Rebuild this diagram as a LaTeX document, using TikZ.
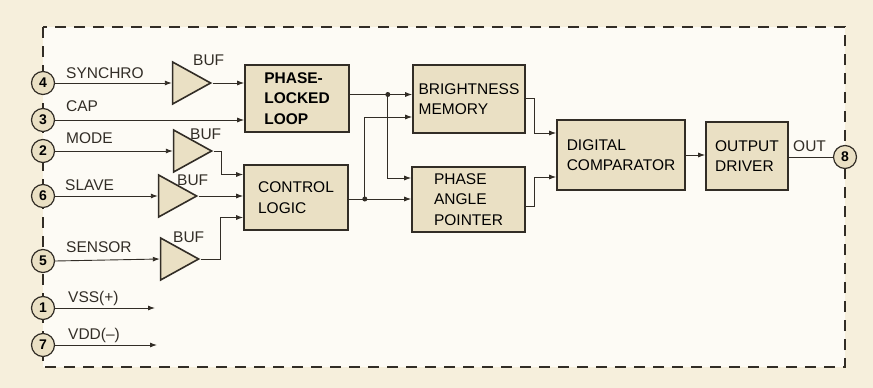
\documentclass[tikz,border=0pt]{standalone}
\usepackage{fontspec}
\setmainfont{Liberation Sans}
\usetikzlibrary{arrows.meta,positioning,shapes.geometric,calc}
\definecolor{paper}{RGB}{246,239,220}
\definecolor{chipbg}{RGB}{253,251,245}
\definecolor{blockfill}{RGB}{234,224,196}
\definecolor{ink}{RGB}{50,45,38}

\begin{document}
\begin{tikzpicture}[x=1pt, y=-1pt, font=\fontsize{15.5}{20.5}\selectfont,
  block/.style={draw=ink, line width=1.6pt, fill=blockfill, align=left, inner sep=0pt},
  pin/.style={circle, draw=ink, line width=1.2pt, fill=blockfill, minimum size=23pt, inner sep=0pt, font=\bfseries\fontsize{14}{14}\selectfont},
  buf/.style={isosceles triangle, isosceles triangle stretches, draw=ink, line width=1.6pt, fill=blockfill, minimum width=42pt, minimum height=38pt, inner sep=0pt},
  sig/.style={ink, line width=0.9pt, -{Latex[length=7pt,width=5pt]}},
  lbl/.style={anchor=west, inner sep=0pt, text=ink},
  jdot/.style={circle, fill=ink, inner sep=0pt, minimum size=5pt}]

% paper and chip outline
\fill[paper] (0,0) rectangle (873,388);
\useasboundingbox (0,0) rectangle (873,388);
\fill[chipbg] (43,27) rectangle (845,367);
\draw[ink, line width=1.6pt, dash pattern=on 11pt off 8pt] (43,27) rectangle (845,367);

% blocks
\node[block, minimum width=104pt, minimum height=67pt, font=\bfseries\fontsize{15.5}{20.5}\selectfont] (pll) at (297,98.5) {PHASE-\\LOCKED\\LOOP};
\node[block, minimum width=112pt, minimum height=68pt] (bm) at (469,99) {BRIGHTNESS\\MEMORY};
\node[block, minimum width=104pt, minimum height=65pt] (cl) at (296,197.5) {CONTROL\\LOGIC};
\node[block, minimum width=113pt, minimum height=65pt] (pap) at (468.5,199.5) {PHASE\\ANGLE\\POINTER};
\node[block, minimum width=128pt, minimum height=70pt] (dc) at (621,155) {DIGITAL\\COMPARATOR};
\node[block, minimum width=82pt, minimum height=68pt] (od) at (747,156) {OUTPUT\\DRIVER};

% buffers
\node[buf] (b1) at (185,83) {};
\node[buf] (b2) at (186,151) {};
\node[buf] (b3) at (171,196) {};
\node[buf] (b4) at (173,259) {};
\node[lbl] (b1lbl) at (193,60) {BUF};
\node[lbl] (b2lbl) at (190,134) {BUF};
\node[lbl] (b3lbl) at (177,180) {BUF};
\node[lbl] (b4lbl) at (173,237) {BUF};

% pins
\node[pin] (p4) at (43,83) {4};
\node[pin] (p3) at (43,120) {3};
\node[pin] (p2) at (43,151) {2};
\node[pin] (p6) at (43,196) {6};
\node[pin] (p5) at (43,261) {5};
\node[pin] (p1) at (43,308) {1};
\node[pin] (p7) at (43,345) {7};
\node[pin] (p8) at (845,157) {8};

\node[lbl] (synchro) at (66,73) {SYNCHRO};
\node[lbl] (cap) at (66,106) {CAP};
\node[lbl] (mode) at (66,138) {MODE};
\node[lbl] (slave) at (65,185) {SLAVE};
\node[lbl] (sensor) at (66,247) {SENSOR};
\node[lbl] (vss) at (68,298) {VSS(+)};
\node[lbl] (vdd) at (68,335) {VDD(--)};
\node[lbl] (out) at (793,146) {OUT};

% inputs
\draw[sig] (p4.east) -- (b1.west);
\draw[sig] (b1.east) -- (b1.east -| pll.west);
\draw[sig] (p3.east) -- (p3 -| pll.west);
\draw[sig] (p2.east) -- (b2.west);
\draw[sig] (b2.east) -- ++(8,0) |- ($(cl.west)+(0,-23)$);
\draw[sig] (p6.east) -- (b3.west);
\draw[sig] (b3.east) -- (b3.east -| cl.west);
\draw[sig] (p5.east) -- (b4.west);
\draw[sig] (b4.east) -- ++(20,0) |- ($(cl.west)+(0,20)$);

\coordinate (vssend) at (155,308);
\coordinate (vddend) at (157,345);
\draw[sig] (p1.east) -- (vssend);
\draw[sig] (p7.east) -- (vddend);

% internal
\coordinate (j1) at ($(pll.east)+(38,-4)$);
\coordinate (j2) at ($(cl.east)+(16,1.5)$);
\draw[sig] (pll.east |- j1) -- (j1 -| bm.west);
\draw[sig] (j1) |- ($(pap.west)+(0,-21.5)$);
\draw[sig] (cl.east |- j2) -- (j2 -| pap.west);
\draw[sig] (j2) |- ($(bm.west)+(0,18)$);
\node[jdot] (j1dot) at (j1) {};
\node[jdot] (j2dot) at (j2) {};

\draw[sig] ($(bm.east)+(0,-1)$) -- ++(9,0) |- ($(dc.west)+(0,-22)$);
\draw[sig] ($(pap.east)+(0,6.5)$) -- ++(9,0) |- ($(dc.west)+(0,22)$);
\draw[sig] (dc.east) -- (dc.east -| od.west);
\draw[ink, line width=0.9pt] (od.east |- p8) -- (p8.west);
\end{tikzpicture}
\end{document}
